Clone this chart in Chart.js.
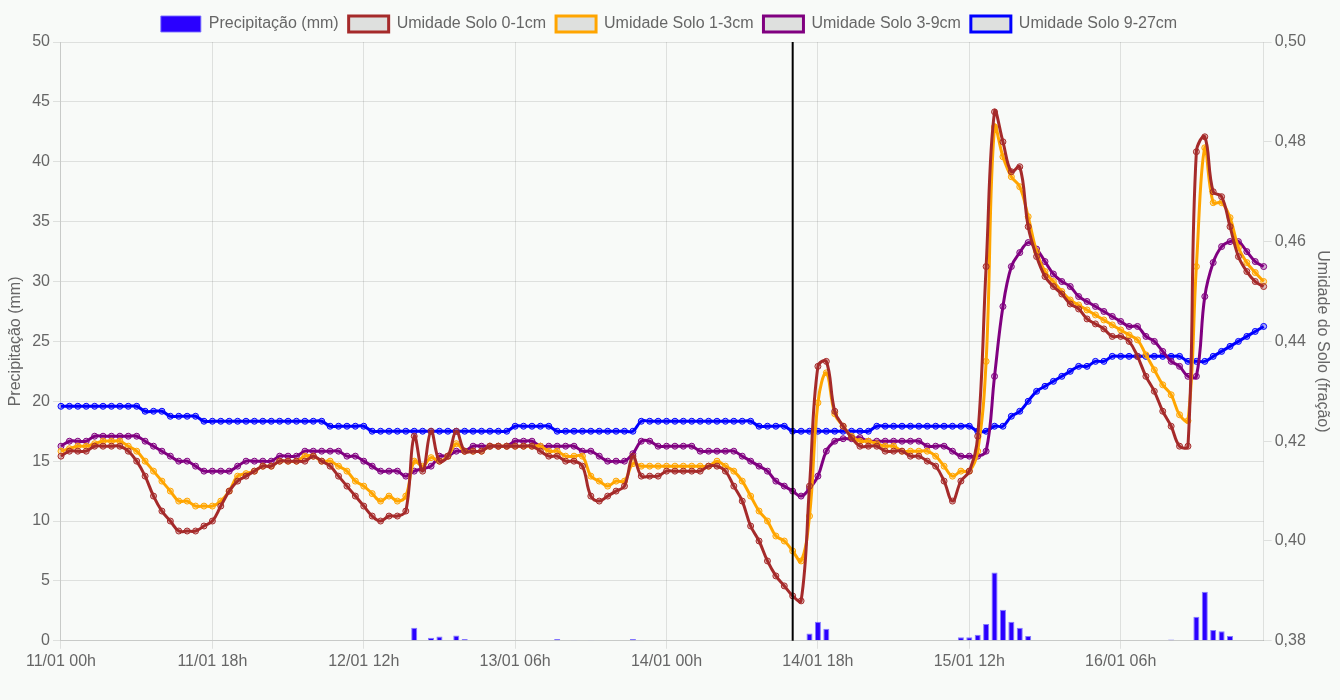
<!DOCTYPE html>
<html>
<head>
<meta charset="utf-8">
<script src="https://cdn.jsdelivr.net/npm/chart.js@4/dist/chart.umd.min.js"></script>
<style>
  html, body { margin: 0; padding: 0; background: #f8faf8; }
  #wrap { width: 1340px; height: 700px; position: relative; }
</style>
</head>
<body>
<div id="wrap"><canvas id="c"></canvas></div>
<script>
// Hourly categories from 11/01 00h (144 hours)
const startDay = 11;
const hours = [];
for (let i = 0; i < 144; i++) {
  const d = startDay + Math.floor(i / 24), h = i % 24;
  hours.push(String(d).padStart(2, '0') + '/01 ' + String(h).padStart(2, '0') + 'h');
}
const tickLabels = ['11/01 00h', '11/01 18h', '12/01 12h', '13/01 06h', '14/01 00h', '14/01 18h', '15/01 12h', '16/01 06h'];
const nowLabel = '14/01 15h';

const precip = [
  0,0,0,0,0,0,0,0,0,0, 0,0,0,0,0,0,0,0,0,0, 0,0,0,0,0,0,0,0,0,0,
  0,0,0,0,0,0,0,0,0,0, 0,0,1.1,0,0.25,0.35,0,0.45,0.15,0, 0,0,0,0,0,0,0,0,0,0.15,
  0,0.07,0,0.07,0,0,0,0,0.15,0.07, 0,0,0,0,0,0,0,0,0,0, 0,0,0,0,0,0,0,0,0,0.6,
  1.6,1.0,0,0,0,0,0,0,0,0, 0,0,0,0,0,0,0,0.3,0.3,0.5, 1.4,5.7,2.6,1.6,1.1,0.4,0,0,0,0,
  0,0,0,0,0,0,0,0,0,0, 0,0,0.1,0,0,2.0,4.1,0.9,0.8,0.4, 0,0,0,0
];

const solo0_1 = [
  0.417,0.418,0.418,0.418,0.419,0.419,0.419,0.419,0.418,0.416,
  0.413,0.409,0.406,0.404,0.402,0.402,0.402,0.403,0.404,0.407,
  0.410,0.412,0.413,0.414,0.415,0.415,0.416,0.416,0.416,0.416,
  0.417,0.416,0.415,0.413,0.411,0.409,0.407,0.405,0.404,0.405,
  0.405,0.406,0.421,0.414,0.422,0.416,0.417,0.422,0.418,0.418,
  0.418,0.419,0.419,0.419,0.419,0.419,0.419,0.418,0.417,0.417,
  0.416,0.416,0.415,0.409,0.408,0.409,0.410,0.411,0.417,0.413,
  0.413,0.413,0.414,0.414,0.414,0.414,0.414,0.415,0.415,0.414,
  0.411,0.408,0.403,0.400,0.396,0.393,0.391,0.389,0.388,0.411,
  0.435,0.436,0.426,0.423,0.4207,0.419,0.419,0.419,0.418,0.418,
  0.418,0.417,0.417,0.416,0.415,0.412,0.408,0.412,0.414,0.421,
  0.455,0.486,0.480,0.474,0.475,0.463,0.457,0.453,0.451,0.4495,
  0.4475,0.4465,0.4445,0.4435,0.4425,0.441,0.441,0.440,0.437,0.433,
  0.430,0.426,0.423,0.419,0.419,0.478,0.481,0.470,0.469,0.463,
  0.457,0.454,0.452,0.451
];

const solo1_3 = [
  0.418,0.4185,0.419,0.419,0.4195,0.420,0.420,0.420,0.419,0.418,
  0.416,0.414,0.412,0.410,0.408,0.408,0.407,0.407,0.407,0.408,
  0.410,0.413,0.4135,0.414,0.415,0.415,0.416,0.416,0.416,0.417,
  0.417,0.416,0.416,0.415,0.414,0.412,0.411,0.4095,0.408,0.409,
  0.408,0.409,0.416,0.415,0.4167,0.416,0.417,0.4195,0.418,0.418,
  0.418,0.419,0.419,0.419,0.419,0.419,0.419,0.419,0.418,0.418,
  0.417,0.417,0.417,0.413,0.412,0.411,0.412,0.412,0.4155,0.415,
  0.415,0.415,0.415,0.415,0.415,0.415,0.415,0.415,0.416,0.415,
  0.414,0.412,0.409,0.406,0.404,0.401,0.400,0.398,0.396,0.405,
  0.4277,0.4337,0.4255,0.423,0.421,0.420,0.420,0.4195,0.419,0.419,
  0.418,0.418,0.418,0.418,0.417,0.415,0.413,0.414,0.414,0.418,
  0.436,0.483,0.477,0.473,0.471,0.465,0.458,0.454,0.452,0.450,
  0.4483,0.4473,0.4463,0.4453,0.4443,0.4433,0.4423,0.4413,0.4403,0.4373,
  0.4343,0.4313,0.4293,0.4253,0.4241,0.455,0.4788,0.4678,0.4678,0.4648,
  0.4588,0.4558,0.4538,0.452
];

const solo3_9 = [
  0.419,0.420,0.420,0.420,0.421,0.421,0.421,0.421,0.421,0.421,
  0.420,0.419,0.418,0.417,0.416,0.416,0.415,0.414,0.414,0.414,
  0.414,0.415,0.416,0.416,0.416,0.416,0.417,0.417,0.417,0.418,
  0.418,0.418,0.418,0.418,0.417,0.417,0.416,0.415,0.414,0.414,
  0.414,0.413,0.414,0.4145,0.415,0.417,0.417,0.418,0.418,0.419,
  0.419,0.419,0.419,0.419,0.420,0.420,0.420,0.419,0.419,0.419,
  0.419,0.419,0.418,0.418,0.417,0.416,0.416,0.416,0.4175,0.420,
  0.420,0.419,0.419,0.419,0.419,0.419,0.418,0.418,0.418,0.418,
  0.418,0.417,0.416,0.415,0.414,0.412,0.411,0.410,0.409,0.4105,
  0.413,0.418,0.420,0.4205,0.4205,0.4207,0.420,0.420,0.420,0.420,
  0.420,0.420,0.420,0.419,0.419,0.419,0.418,0.417,0.417,0.417,
  0.418,0.433,0.447,0.455,0.4578,0.4598,0.4585,0.456,0.4535,0.452,
  0.451,0.449,0.448,0.447,0.446,0.445,0.444,0.443,0.443,0.441,
  0.440,0.438,0.436,0.435,0.433,0.433,0.449,0.4558,0.459,0.460,
  0.460,0.458,0.456,0.455
];

const solo9_27 = [
  0.427,0.427,0.427,0.427,0.427,0.427,0.427,0.427,0.427,0.427,
  0.426,0.426,0.426,0.425,0.425,0.425,0.425,0.424,0.424,0.424,
  0.424,0.424,0.424,0.424,0.424,0.424,0.424,0.424,0.424,0.424,
  0.424,0.424,0.423,0.423,0.423,0.423,0.423,0.422,0.422,0.422,
  0.422,0.422,0.422,0.422,0.422,0.422,0.422,0.422,0.422,0.422,
  0.422,0.422,0.422,0.422,0.423,0.423,0.423,0.423,0.423,0.422,
  0.422,0.422,0.422,0.422,0.422,0.422,0.422,0.422,0.422,0.424,
  0.424,0.424,0.424,0.424,0.424,0.424,0.424,0.424,0.424,0.424,
  0.424,0.424,0.424,0.423,0.423,0.423,0.423,0.422,0.422,0.422,
  0.422,0.422,0.422,0.422,0.422,0.422,0.422,0.423,0.423,0.423,
  0.423,0.423,0.423,0.423,0.423,0.423,0.423,0.423,0.423,0.422,
  0.422,0.423,0.423,0.425,0.426,0.428,0.430,0.431,0.432,0.433,
  0.434,0.435,0.435,0.436,0.436,0.437,0.437,0.437,0.437,0.437,
  0.437,0.437,0.437,0.437,0.436,0.436,0.436,0.437,0.438,0.439,
  0.440,0.441,0.442,0.443
];

const rightTicks = [0.38, 0.40, 0.42, 0.44, 0.46, 0.48, 0.50];

function lineDs(label, data, color, fillA) {
  return {
    type: 'line', label, data, yAxisID: 'y1',
    borderColor: color, borderWidth: 3,
    pointRadius: 3, pointBorderWidth: 1,
    pointBorderColor: color, pointBackgroundColor: fillA,
    tension: 0.4, fill: false
  };
}

const nowLine = {
  id: 'nowLine',
  afterDatasetsDraw(chart) {
    const x = chart.scales.x.getPixelForValue(hours.indexOf(nowLabel));
    const { top, bottom } = chart.chartArea;
    const ctx = chart.ctx;
    ctx.save();
    ctx.strokeStyle = '#000';
    ctx.lineWidth = 2;
    ctx.beginPath();
    ctx.moveTo(x, top);
    ctx.lineTo(x, bottom);
    ctx.stroke();
    ctx.restore();
  }
};

Chart.defaults.font.size = 16;
Chart.defaults.color = '#666';

new Chart(document.getElementById('c'), {
  type: 'line',
  data: {
    labels: hours,
    datasets: [
      { type: 'bar', label: 'Precipitação (mm)', data: precip, yAxisID: 'y',
        backgroundColor: '#2a00ff', borderColor: 'rgba(120,110,255,0.9)', borderWidth: 1 },
      lineDs('Umidade Solo 0-1cm', solo0_1, 'brown', 'rgba(165,42,42,0.3)'),
      lineDs('Umidade Solo 1-3cm', solo1_3, 'orange', 'rgba(255,165,0,0.3)'),
      lineDs('Umidade Solo 3-9cm', solo3_9, 'purple', 'rgba(128,0,128,0.3)'),
      lineDs('Umidade Solo 9-27cm', solo9_27, 'blue', 'rgba(0,0,255,0.3)')
    ]
  },
  options: {
    responsive: true,
    maintainAspectRatio: false,
    animation: false,
    layout: { padding: { top: 6, bottom: 26, left: 2, right: 4 } },
    plugins: {
      legend: {
        labels: {
          generateLabels(chart) {
            const items = Chart.defaults.plugins.legend.labels.generateLabels(chart);
            items.forEach((it, i) => {
              if (i > 0) it.fillStyle = 'rgba(0,0,0,0.1)';
            });
            return items;
          }
        }
      },
      tooltip: { enabled: false }
    },
    scales: {
      x: {
        type: 'category',
        offset: false,
        grid: { offset: false, color: 'rgba(0,0,0,0.1)' },
        ticks: { autoSkip: false, maxRotation: 0 },
        afterBuildTicks(scale) {
          scale.ticks = scale.ticks.filter(t => tickLabels.includes(hours[t.value]));
        }
      },
      y: {
        position: 'left',
        min: 0, max: 50,
        ticks: { stepSize: 5 },
        title: { display: true, text: 'Precipitação (mm)' }
      },
      y1: {
        position: 'right',
        min: 0.38, max: 0.50,
        grid: { drawOnChartArea: false },
        afterBuildTicks(scale) {
          scale.ticks = rightTicks.map(v => ({ value: v }));
        },
        ticks: { callback: v => Number(v).toFixed(2).replace('.', ',') },
        title: { display: true, text: 'Umidade do Solo (fração)' }
      }
    }
  },
  plugins: [nowLine]
});
</script>
</body>
</html>
